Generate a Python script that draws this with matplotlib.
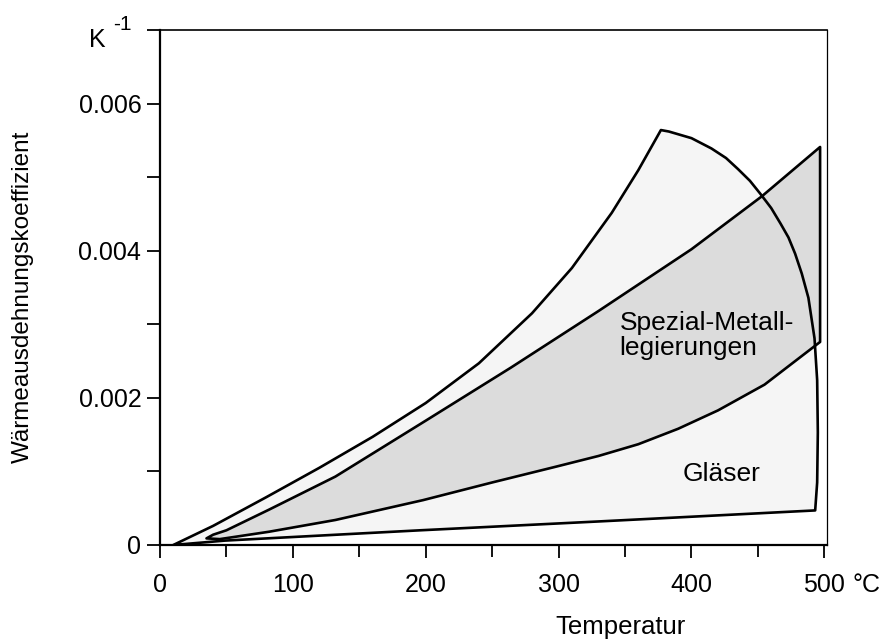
import matplotlib
matplotlib.use("Agg")
import matplotlib.pyplot as plt

plt.rcParams['font.family'] = ['Liberation Sans', 'DejaVu Sans']

# Gläser: outline of the region (temperature in °C, coefficient in 1/K)
glas_T = [10, 40, 80, 120, 160, 200, 240, 280, 310, 340, 360, 377,
          383, 400, 415, 426, 435, 444, 452, 460, 467, 473, 478, 483, 488,
          492.6, 494.6, 495.1, 494.6, 493.1,
          330, 196, 49]
glas_a = [0.0, 0.00026, 0.00065, 0.00105, 0.00147, 0.00193, 0.00247, 0.00315,
          0.003765, 0.004515, 0.005095, 0.00564,
          0.00562, 0.00553, 0.00539, 0.00526, 0.00511, 0.00495, 0.00477,
          0.00458, 0.00437, 0.00418, 0.00396, 0.00369, 0.00336,
          0.00281, 0.00224, 0.00153, 0.00085, 0.00047,
          0.00032, 0.0002, 0.00006]

# Spezial-Metalllegierungen: outline of the region
metall_T = [35, 40, 50, 82, 132, 200, 264, 330, 400, 453, 496.8,
            496.8, 455, 420, 390, 360, 330, 297, 250, 198, 132, 82, 45]
metall_a = [0.00009, 0.00014, 0.0002, 0.00048, 0.00093, 0.00169, 0.00241,
            0.00318, 0.00402, 0.00474, 0.00541,
            0.00276, 0.00218, 0.00183, 0.00158, 0.00137, 0.00121, 0.00106,
            0.00085, 0.00061, 0.00034, 0.00018, 0.00008]

x_ticks = [0, 100, 200, 300, 400, 500]
x_minor = [50, 150, 250, 350, 450]
y_ticks = [0, 0.001, 0.002, 0.003, 0.004, 0.005, 0.006, 0.007]
y_labels = ['0', '', '0.002', '', '0.004', '', '0.006', '']

fig = plt.figure(figsize=(8.85, 6.39), dpi=100)
ax = fig.add_axes([160/885, 94/639, 667/885, 515/639])

ax.fill(glas_T, glas_a, facecolor='#f5f5f5', edgecolor='none', zorder=1)
ax.fill(metall_T, metall_a, facecolor='#dcdcdc', edgecolor='none', zorder=2)
ax.fill(glas_T, glas_a, facecolor='none', edgecolor='black', lw=1.9,
        joinstyle='round', zorder=3)
ax.fill(metall_T, metall_a, facecolor='none', edgecolor='black', lw=1.9,
        joinstyle='round', zorder=3)

ax.text(346, 0.00318, 'Spezial-Metall-\nlegierungen', fontsize=19,
        va='top', ha='left', linespacing=1.05)
ax.text(393, 0.000866, 'Gläser', fontsize=19, va='baseline', ha='left')

ax.set_xlim(0, 502)
ax.set_ylim(0, 0.007)
ax.set_xticks(x_ticks)
ax.set_xticklabels([str(t) for t in x_ticks])
ax.set_xticks(x_minor, minor=True)
ax.set_yticks(y_ticks)
ax.set_yticklabels(y_labels)
ax.tick_params(axis='both', direction='out', length=9.5, width=1.3,
               labelsize=18, color='black')
ax.tick_params(axis='x', which='minor', direction='out', length=8.5, width=1.3)
ax.tick_params(axis='x', pad=11)
ax.tick_params(axis='y', pad=4)

# unit labels
ax.annotate('°C', xy=(500, 0), xytext=(20, -20.5), textcoords='offset points',
            fontsize=18, ha='left', va='top')
ax.annotate('K', xy=(0, 0.007), xytext=(-39, -12), textcoords='offset points',
            fontsize=18, ha='right', va='baseline')
ax.annotate('-1', xy=(0, 0.007), xytext=(-34, 0), textcoords='offset points',
            fontsize=15, ha='left', va='baseline')

ax.spines['left'].set_linewidth(1.6)
ax.spines['bottom'].set_linewidth(1.6)
ax.spines['top'].set_linewidth(1.2)
ax.spines['right'].set_linewidth(0.9)

fig.text(23/885, 1 - 297/639, 'Wärmeausdehnungskoeffizient', fontsize=17.5,
         rotation=90, ha='center', va='center')
fig.text(620/885, 1 - 634/639, 'Temperatur', fontsize=18.5,
         ha='center', va='baseline')

fig.savefig('out.png', dpi=100)
